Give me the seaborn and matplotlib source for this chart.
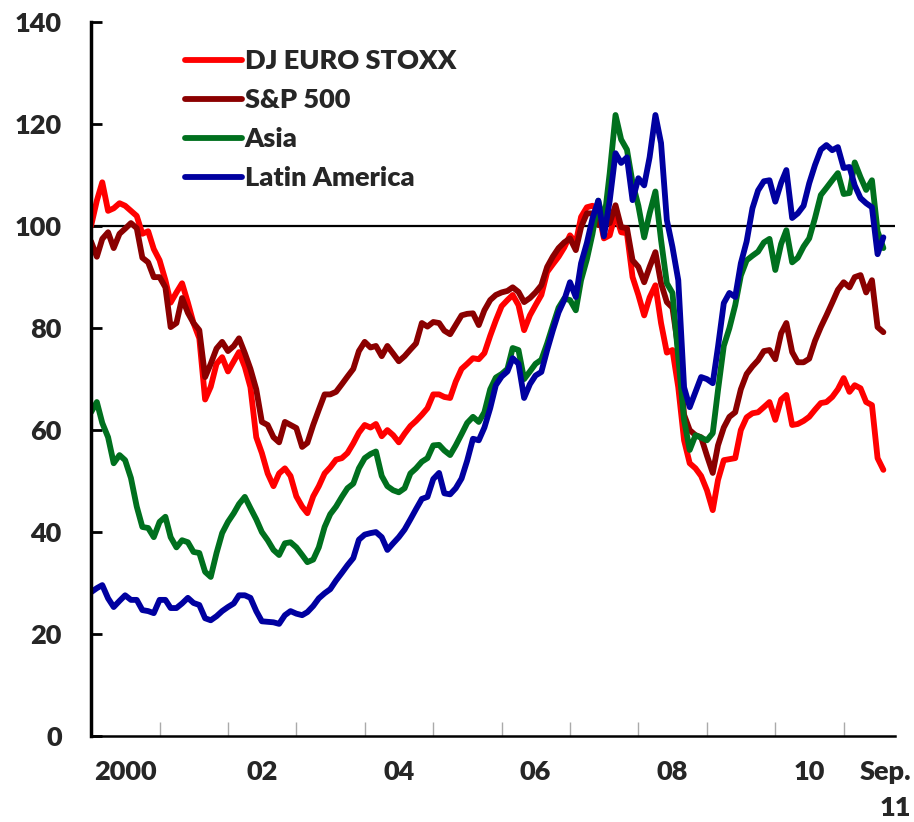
import matplotlib
matplotlib.use('Agg')
import matplotlib.pyplot as plt
import seaborn as sns
import pandas as pd

# monthly index levels, Jan 2000 - Aug 2011
dj_euro_stoxx = [
    100, 105, 108.6, 103, 103.5, 104.5, 104, 103, 102, 98.5, 99, 95.5,
    93.3, 89.4, 85, 87, 88.8, 85, 81, 78, 66, 68.5, 73, 74.3,
    71.5, 73.5, 75.3, 72.4, 68.4, 58.6, 55.5, 51.5, 49, 51.5, 52.5, 51,
    47, 45, 43.7, 47, 49, 51.5, 52.7, 54.2, 54.5, 55.5, 57.4, 59.5,
    61, 60.5, 61.2, 58.8, 60, 59, 57.6, 59.3, 60.8, 61.8, 63, 64.3,
    67, 67, 66.5, 66.3, 69.5, 72, 73, 74.1, 73.9, 75.1, 78.5, 81.5,
    84.3, 85.5, 86.5, 84.5, 79.6, 82.5, 84.5, 86.5, 91, 92.5, 94, 95.8,
    98.2, 96.7, 101.8, 103.7, 104, 103, 97.6, 98.2, 102.5, 98.8, 98.6, 90,
    86.5, 82.5, 86, 88.4, 81, 75.2, 75.7, 68.4, 58, 53.5, 52.5, 51,
    48.2, 44.3, 50.2, 54.1, 54.3, 54.5, 60, 62.5, 63.3, 63.5, 64.5, 65.5,
    62, 66, 66.9, 61, 61.2, 61.8, 62.6, 64, 65.3, 65.5, 66.5, 68,
    70.2, 67.5, 68.8, 68.2, 65.5, 64.9, 54.5, 52.2,
]
sp500 = [
    97, 94, 97.5, 98.8, 95.7, 98.5, 99.5, 100.6, 99.6, 93.8, 92.9, 90,
    90, 88, 80.2, 81, 85.9, 83, 81, 79.6, 70.4, 73, 76, 77.3,
    75.5, 76.5, 78, 75.1, 72, 68, 61.6, 61, 58.6, 57.6, 61.6, 61,
    60.4, 56.7, 57.5, 61, 64, 67, 67, 67.5, 69, 70.5, 72, 75.5,
    77.3, 76.2, 76.5, 74.5, 76.5, 75, 73.5, 74.5, 75.8, 77, 81, 80.3,
    81.2, 81, 79.5, 78.8, 80.6, 82.5, 82.8, 82.9, 80.6, 83.5, 85.5, 86.5,
    87, 87.3, 88, 87.1, 85.1, 85.9, 87, 88.4, 92, 94, 95.7, 96.8,
    97.6, 95.3, 99.8, 102.5, 102.5, 100.2, 100.5, 100.6, 104.1, 99.8, 99.6, 93.3,
    92, 89, 92, 94.9, 88.8, 85.1, 84, 76, 63, 60, 59, 58.6,
    55, 51.6, 57, 60.5, 62.6, 63.5, 68, 71, 72.5, 73.7, 75.5, 75.7,
    73.9, 79, 81, 75.3, 73.3, 73.3, 74, 77.5, 80.2, 82.5, 85, 87.5,
    89, 88, 90, 90.4, 87, 89.4, 80.2, 79.2,
]
asia = [
    63.5, 65.5, 61.4, 58.6, 53.5, 55.1, 54.1, 50.6, 45, 41, 40.8, 39,
    42, 43, 39, 37, 38.4, 38, 36.1, 35.9, 32.2, 31.2, 35.9, 39.8,
    42, 43.7, 45.5, 46.9, 44.7, 42.5, 40, 38.4, 36.5, 35.5, 37.8, 38,
    37, 35.5, 34.1, 34.6, 37, 41, 43.5, 45, 46.9, 48.6, 49.5, 52.5,
    54.5, 55.3, 55.8, 51, 49, 48.2, 47.8, 48.6, 51.5, 52.5, 53.8, 54.5,
    57, 57.1, 56, 55.1, 57, 59.2, 61.4, 62.6, 61.6, 63.5, 68, 70.3,
    71, 72, 76.1, 75.7, 70, 71.5, 73, 73.8, 77, 80.5, 84, 85.8,
    85.5, 83.5, 89.4, 93.5, 98.5, 105, 100.6, 110.4, 121.8, 117, 115, 108.5,
    104, 97.8, 102.5, 106.8, 97.3, 88.8, 86.9, 74.3, 62, 56.1, 59, 58.5,
    58, 59.4, 67.8, 76.5, 80, 84.5, 90.3, 93.3, 94.2, 95, 96.8, 97.5,
    91.4, 96.5, 99.2, 92.9, 93.8, 96, 97.6, 101.6, 106.1, 107.5, 109, 110.4,
    106.3, 106.5, 112.5, 109.6, 107.1, 109, 99, 95.7,
]
latin_america = [
    28.2, 29, 29.6, 27, 25.3, 26.5, 27.6, 26.7, 26.7, 24.7, 24.5, 24.1,
    26.7, 26.7, 25.1, 25.1, 26, 27.1, 26.1, 25.7, 23.1, 22.7, 23.5, 24.5,
    25.3, 26, 27.6, 27.6, 27.1, 24.5, 22.5, 22.4, 22.3, 22, 23.7, 24.5,
    24, 23.7, 24.3, 25.5, 27, 28, 28.8, 30.5, 32, 33.5, 34.9, 38.5,
    39.5, 39.8, 40, 39, 36.5, 37.8, 39, 40.5, 42.5, 44.5, 46.5, 46.9,
    50.4, 51.6, 47.6, 47.4, 48.6, 50.5, 54, 58.3, 58, 60.5, 64.3, 68.8,
    70.5, 71.5, 74.1, 73, 66.3, 69, 70.7, 71.4, 75.7, 79.5, 83.1, 85.5,
    89, 86.1, 92.7, 96.7, 101.5, 105, 98, 105, 114.3, 112.4, 113.5, 105.1,
    109.4, 108, 113.5, 121.8, 116.3, 101.2, 95.9, 89.4, 68.4, 64.5, 67.5, 70.4,
    70, 69.2, 76.3, 84.9, 86.9, 86.1, 92.7, 97, 103.5, 107, 108.8, 109,
    104.8, 108.5, 111, 101.6, 102.5, 104, 108.4, 112, 115, 115.9, 114.9, 115.5,
    111.4, 111.6, 108, 105.5, 104.5, 103.7, 94.5, 97.8,
]
series_names = ['DJ EURO STOXX', 'S&P 500', 'Asia', 'Latin America']
series_colors = ['#FF0000', '#8B0000', '#00701E', '#0000A0']
x_labels = ['2000', '02', '04', '06', '08', '10', 'Sep.\n11']
label_dates = ['2000-07-01', '2002-07-01', '2004-07-01', '2006-07-01',
               '2008-07-01', '2010-07-01', '2011-08-10']

dates = pd.date_range('2000-01-01', periods=len(dj_euro_stoxx), freq='MS')
df = pd.concat([
    pd.DataFrame({'date': dates, 'value': vals, 'series': name})
    for name, vals in zip(series_names, [dj_euro_stoxx, sp500, asia, latin_america])
])

sns.set_style('white')
plt.rcParams['font.family'] = ['Lato', 'DejaVu Sans']
plt.rcParams['font.weight'] = 'heavy'

fig, ax = plt.subplots(figsize=(9.14, 8.22), dpi=100)
fig.subplots_adjust(left=0.0996, right=0.979, bottom=0.1046, top=0.973)

ax.axhline(100, color='black', lw=1.6, zorder=1)
sns.lineplot(data=df, x='date', y='value', hue='series', hue_order=series_names,
             palette=dict(zip(series_names, series_colors)), linewidth=4.2,
             sort=False, ax=ax, zorder=2)

ax.set_ylim(0, 140)
ax.set_yticks(range(0, 141, 20))
ax.set_xlim(pd.Timestamp('2000-01-01'), pd.Timestamp('2011-10-01'))
ax.set_xticks(pd.date_range('2001-01-01', '2011-01-01', freq='YS'))
ax.set_xticklabels([])
ax.set_xticks(pd.to_datetime(label_dates), minor=True)
ax.set_xticklabels(x_labels, minor=True)
ax.set_xlabel('')
ax.set_ylabel('')

ax.tick_params(axis='y', left=True, direction='in', length=8, width=2,
               color='black', labelsize=19.5, pad=21)
ax.tick_params(axis='x', which='major', bottom=True, direction='in',
               length=10, width=1, color='#aaaaaa')
ax.tick_params(axis='x', which='minor', bottom=True, length=0,
               labelsize=19.5, pad=17)
last = ax.xaxis.get_minorticklabels()[-1]
last.set_multialignment('right')
last.set_linespacing(1.6)

for side in ['top', 'right']:
    ax.spines[side].set_visible(False)
ax.spines['left'].set_linewidth(2.5)
ax.spines['bottom'].set_linewidth(1.8)
ax.spines['left'].set_color('black')
ax.spines['bottom'].set_color('black')

handles, labels = ax.get_legend_handles_labels()
for h in handles:
    h.set_linewidth(4.2)
ax.legend(handles, labels, loc='upper left', bbox_to_anchor=(0.117, 0.962),
          frameon=False, fontsize=19.5, handlelength=2.1, handletextpad=0.1,
          labelspacing=0.55, borderpad=0, borderaxespad=0)

fig.savefig('out.png', dpi=100)
plt.close(fig)
